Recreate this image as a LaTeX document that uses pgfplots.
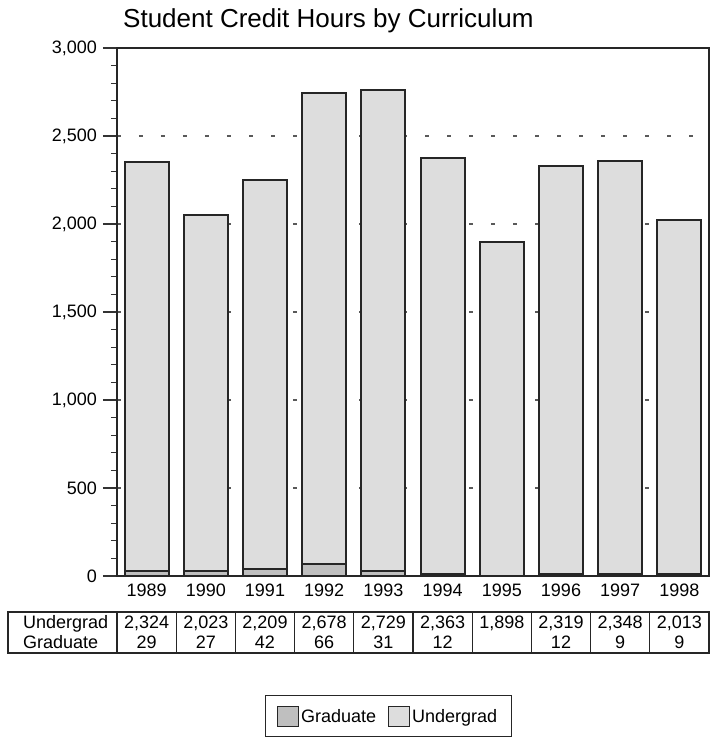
\documentclass[border=0pt]{standalone}
\usepackage{fontspec}
\setmainfont{Liberation Sans}
\usepackage{pgfplots}
\pgfplotsset{compat=1.18}
\begin{document}
\fontsize{18}{21}\selectfont
\begin{tikzpicture}
\begin{axis}[
  scale only axis, width=592pt, height=528pt,
  ymin=0, ymax=3000, xmin=-0.5, xmax=9.5,
  ybar stacked, bar width=44pt,
  xtick={0,...,9}, xticklabels={1989,1990,1991,1992,1993,1994,1995,1996,1997,1998},
  ytick={0,500,...,3000},
  yticklabels={0,500,{1,000},{1,500},{2,000},{2,500},{3,000}},
  ytick pos=left,
  minor y tick num=4,
  tick align=outside,
  major tick length=14pt, minor tick length=6pt,
  xtick style={draw=none},
  tick style={line width=1.2pt, black!80},
  ymajorgrids,
  major grid style={dash pattern=on 4pt off 18pt, line width=1.2pt, black!65},
  axis line style={line width=1.6pt, black!85},
  tick label style={font=\fontsize{18}{21}\selectfont},
  xticklabel style={yshift=12pt},
  clip=false,
  legend columns=2,
  legend style={at={(0.458,-0.2254)}, anchor=north, draw=black!85, line width=1pt,
    font=\fontsize{18}{21}\selectfont, inner xsep=12pt, inner ysep=10pt,
    /tikz/every even column/.append style={column sep=10pt}},
]
\addplot[fill=gray!50, draw=black!85, line width=2pt,
  legend image code/.code={\draw[fill=gray!50, draw=black!85, line width=1pt] (0pt,-9pt) rectangle (21pt,11pt);}]
  coordinates {(0,29) (1,27) (2,42) (3,66) (4,31) (5,12) (6,0) (7,12) (8,9) (9,9)};
\addplot[fill=gray!27, draw=black!85, line width=2pt,
  legend image code/.code={\draw[fill=gray!27, draw=black!85, line width=1pt] (0pt,-9pt) rectangle (21pt,11pt);}]
  coordinates {(0,2324) (1,2023) (2,2209) (3,2678) (4,2729) (5,2363) (6,1898) (7,2319) (8,2348) (9,2013)};
\legend{Graduate,Undergrad}
\coordinate (O) at (rel axis cs:0,0);
\end{axis}
\begin{scope}[shift={(O)}]
  \node[anchor=base west, font=\fontsize{26}{30}\selectfont] at (0pt,548pt) {Student Credit Hours by Curriculum};
  \draw[line width=1.2pt, black!85] (-109pt,-36pt) rectangle (592pt,-77pt);
  \foreach \i in {0,...,9} \draw[line width=1.2pt, black!85] ({59.2pt*\i},-36pt) -- ({59.2pt*\i},-77pt);
  \node[anchor=base west] at (-100pt,-52.5pt) {Undergrad};
  \node[anchor=base west] at (-100pt,-72.5pt) {Graduate};
  \foreach \v [count=\i from 0] in {{2,324},{2,023},{2,209},{2,678},{2,729},{2,363},{1,898},{2,319},{2,348},{2,013}}
    \node[anchor=base] at ({29.6pt+59.2pt*\i},-52.5pt) {\v};
  \foreach \v [count=\i from 0] in {29,27,42,66,31,12,{},12,9,9}
    \node[anchor=base] at ({29.6pt+59.2pt*\i},-72.5pt) {\v};
  \pgfresetboundingbox
  \path (-117pt,-166pt) rectangle (593pt,576pt);
\end{scope}
\end{tikzpicture}
\end{document}
